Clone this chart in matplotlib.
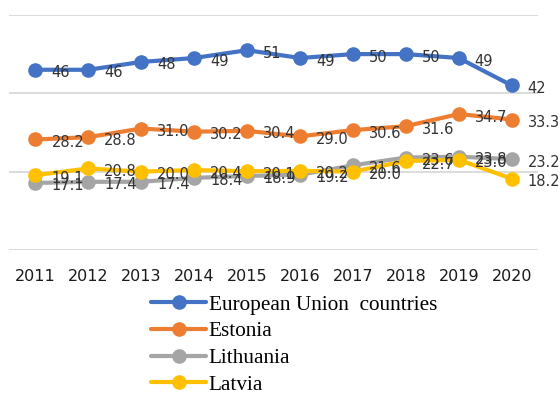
import numpy as np
import matplotlib
matplotlib.use("Agg")
import matplotlib.pyplot as plt

years = ["2011", "2012", "2013", "2014", "2015", "2016", "2017", "2018", "2019", "2020"]
eu = [46, 46, 48, 49, 51, 49, 50, 50, 49, 42]
estonia = [28.2, 28.8, 31.0, 30.2, 30.4, 29.0, 30.6, 31.6, 34.7, 33.3]
lithuania = [17.1, 17.4, 17.4, 18.4, 18.9, 19.2, 21.6, 23.6, 23.8, 23.2]
latvia = [19.1, 20.8, 20.0, 20.4, 20.1, 20.2, 20.0, 22.7, 23.0, 18.2]

series = [
    ("European Union  countries", eu, "#4472C4", "{:.0f}"),
    ("Estonia", estonia, "#ED7D31", "{:.1f}"),
    ("Lithuania", lithuania, "#A5A5A5", "{:.1f}"),
    ("Latvia", latvia, "#FFC000", "{:.1f}"),
]

fig = plt.figure(figsize=(5.6, 3.93), dpi=100)
ax = fig.add_axes([0.016, 0.364, 0.945, 0.598])

x = np.arange(len(years))
lines = []
for name, vals, col, fmt in series:
    ln, = ax.plot(x, vals, color=col, lw=3, marker="o", ms=9.5,
                  label=name, clip_on=False, solid_capstyle="round")
    lines.append(ln)

# data labels to the right of each point
for name, vals, col, fmt in series:
    for xi, v in zip(x, vals):
        ax.annotate(fmt.format(v), (xi, v), xytext=(16, -3),
                    textcoords="offset pixels", ha="left", va="center",
                    fontsize=10.5, color="#333333", zorder=10)

ax.set_xlim(-0.5, len(years) - 0.5)
ax.set_ylim(0, 60)
ax.set_yticks([0, 20, 40, 60])
ax.yaxis.grid(True, color="#d9d9d9", lw=1.3)
ax.set_axisbelow(True)
ax.set_yticklabels([])
ax.tick_params(axis="y", length=0)
ax.set_xticks(x)
ax.set_xticklabels(years, fontsize=11.5, color="#1a1a1a")
ax.tick_params(axis="x", length=0, pad=14)
for s in ax.spines.values():
    s.set_visible(False)

fig.legend(handles=lines, loc="upper left", bbox_to_anchor=(0.27, 0.25),
           frameon=False, prop={"family": "Liberation Serif", "size": 15.3},
           handlelength=2.6, handletextpad=0.1, labelspacing=0.32,
           borderaxespad=0, borderpad=0)

fig.savefig("out.png", dpi=100)
